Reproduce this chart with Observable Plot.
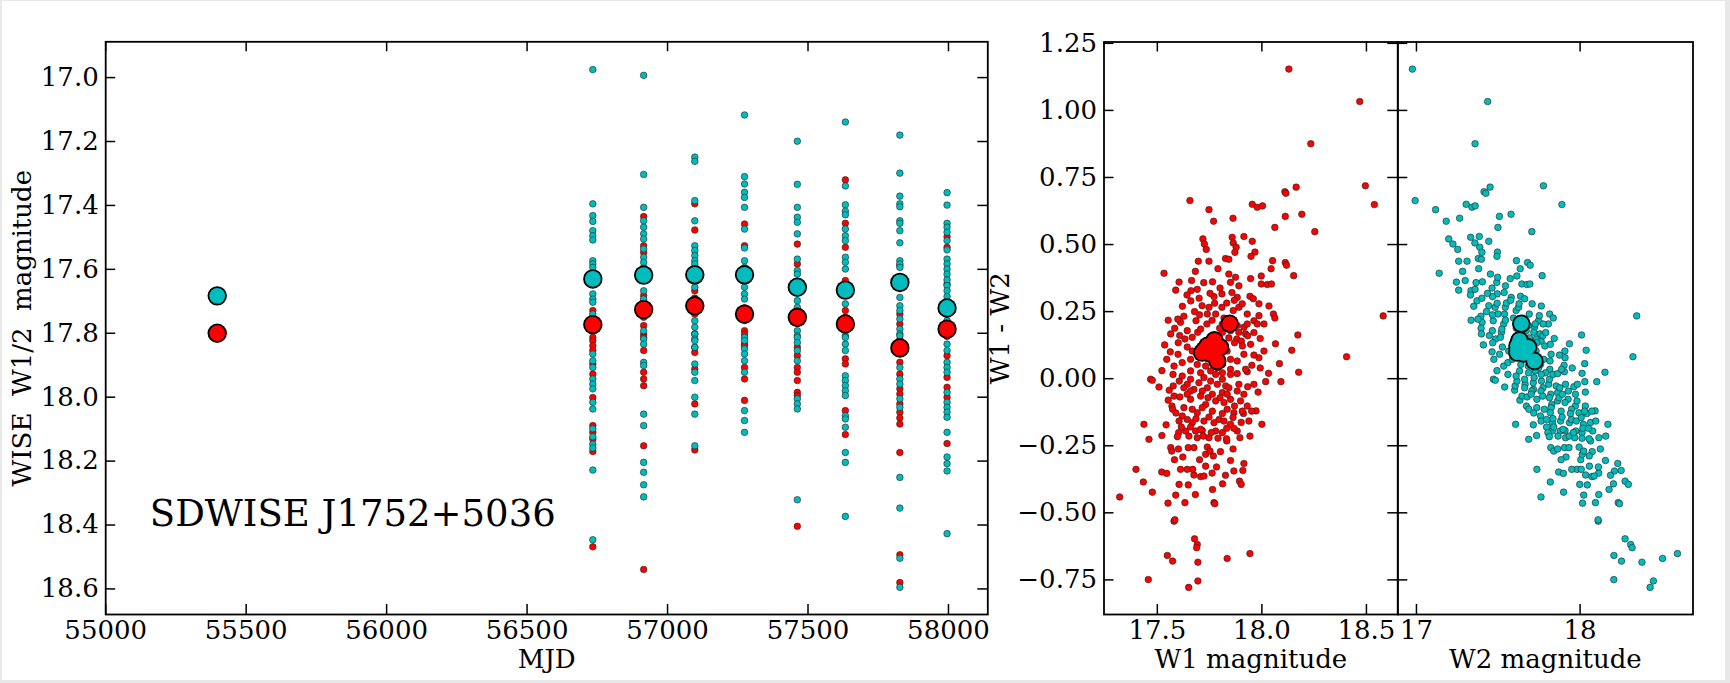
<!DOCTYPE html>
<html>
<head>
<meta charset="utf-8">
<script src="https://cdn.jsdelivr.net/npm/d3@7"></script>
<script src="https://cdn.jsdelivr.net/npm/@observablehq/plot@0.6"></script>
<style>
  html, body { margin: 0; padding: 0; background: #e8e8e8; width: 1730px; height: 683px; overflow: hidden; }
  #sheet { position: absolute; left: 2px; top: 1px; width: 1723px; height: 679px; background: #fff; }
  svg.panel { position: absolute; top: 0; overflow: visible; }
</style>
</head>
<body>
<div id="sheet"></div>
<script>
// ---- Light curve: epoch means (first epoch = AllWISE, then NEOWISE visits) ----
const epochMJD = [55397, 56734, 56915, 57097, 57274, 57462, 57633, 57827, 57995];
const w1Mean   = [17.800, 17.773, 17.726, 17.714, 17.740, 17.750, 17.771, 17.846, 17.787];
const w2Mean   = [17.683, 17.630, 17.618, 17.617, 17.617, 17.656, 17.665, 17.641, 17.721];

// ---- Single-exposure magnitudes for each NEOWISE visit (epochMJD[1..8]) ----
const w1Exposures = [
  [17.729, 17.750, 17.760, 17.790, 17.813, 17.823, 17.839, 17.854, 17.896, 17.928, 18.001, 18.089, 18.110, 18.131, 18.170, 18.468],
  [17.435, 17.526, 17.547, 17.594, 17.682, 17.700, 17.750, 17.776, 17.803, 17.813, 17.854, 17.922, 17.943, 17.964, 18.152, 18.539],
  [17.395, 17.477, 17.667, 17.690, 17.740, 17.802, 17.844, 17.860, 17.912, 18.021, 18.165],
  [17.458, 17.526, 17.720, 17.760, 17.792, 17.803, 17.834, 17.839, 17.907, 17.943, 18.010],
  [17.521, 17.583, 17.730, 17.770, 17.844, 17.870, 17.907, 17.922, 17.948, 17.985, 17.995, 18.404],
  [17.320, 17.456, 17.531, 17.635, 17.729, 17.750, 17.790, 17.880, 17.896, 18.042, 18.117],
  [17.588, 17.740, 17.771, 17.820, 17.860, 17.891, 17.928, 17.974, 17.990, 18.021, 18.047, 18.065, 18.084, 18.173, 18.493, 18.580],
  [17.498, 17.531, 17.646, 17.770, 17.800, 17.810, 17.870, 17.938, 17.969, 18.000, 18.145]
];
const w2Exposures = [
  [16.975, 17.395, 17.432, 17.450, 17.479, 17.495, 17.508, 17.573, 17.583, 17.594, 17.620, 17.640, 17.677, 17.693, 17.703, 17.740, 17.865, 17.886, 17.907, 17.943, 17.959, 17.974, 18.016, 18.037, 18.099, 18.124, 18.147, 18.159, 18.228, 18.446],
  [16.993, 17.303, 17.406, 17.448, 17.468, 17.489, 17.505, 17.536, 17.562, 17.578, 17.610, 17.630, 17.667, 17.693, 17.792, 17.818, 17.834, 17.891, 17.901, 18.053, 18.089, 18.204, 18.235, 18.274, 18.312],
  [17.249, 17.262, 17.385, 17.448, 17.526, 17.541, 17.557, 17.573, 17.583, 17.610, 17.630, 17.656, 17.693, 17.761, 17.781, 17.803, 17.818, 17.823, 17.844, 17.896, 17.922, 17.948, 18.000, 18.053, 18.152],
  [17.117, 17.310, 17.333, 17.359, 17.375, 17.406, 17.474, 17.533, 17.573, 17.594, 17.610, 17.630, 17.656, 17.677, 17.693, 17.813, 17.823, 17.849, 17.865, 17.886, 17.922, 18.042, 18.073, 18.110],
  [17.199, 17.334, 17.406, 17.437, 17.453, 17.489, 17.568, 17.604, 17.615, 17.650, 17.670, 17.698, 17.719, 17.792, 17.808, 17.813, 17.829, 17.854, 17.886, 18.005, 18.021, 18.037, 18.321],
  [17.139, 17.339, 17.398, 17.418, 17.429, 17.474, 17.495, 17.510, 17.562, 17.578, 17.599, 17.650, 17.680, 17.708, 17.808, 17.813, 17.834, 17.854, 17.933, 17.948, 17.964, 17.980, 17.995, 18.058, 18.068, 18.094, 18.173, 18.204, 18.373],
  [17.180, 17.299, 17.371, 17.395, 17.404, 17.448, 17.456, 17.479, 17.517, 17.573, 17.583, 17.594, 17.630, 17.650, 17.688, 17.714, 17.729, 17.755, 17.787, 17.802, 17.808, 17.907, 17.943, 17.959, 18.005, 18.032, 18.251, 18.347, 18.504, 18.595],
  [17.360, 17.399, 17.456, 17.468, 17.484, 17.510, 17.539, 17.568, 17.583, 17.599, 17.615, 17.633, 17.651, 17.667, 17.685, 17.710, 17.740, 17.760, 17.834, 17.854, 17.891, 17.907, 17.922, 17.985, 18.016, 18.032, 18.047, 18.063, 18.110, 18.187, 18.208, 18.231, 18.427]
];

// ---- Single exposures as [W1, W1 - W2]; W2 follows as W1 - colour ----
const w1AndColour = [
  [18.129,1.154],[18.468,1.033],[18.234,0.876],[18.495,0.719],[18.538,0.649],[18.164,0.714],[18.110,0.697],[18.115,0.691],
  [17.656,0.664],[17.747,0.630],[17.769,0.587],[17.862,0.598],[17.954,0.650],[17.978,0.639],[18.003,0.644],[18.112,0.605],
  [18.191,0.613],[18.062,0.564],[18.253,0.548],[17.718,0.521],[17.725,0.502],[17.734,0.482],[17.858,0.527],[17.863,0.506],
  [17.877,0.490],[17.871,0.471],[17.914,0.530],[17.954,0.512],[17.967,0.472],[17.948,0.456],[17.696,0.438],[17.747,0.438],
  [17.826,0.448],[17.842,0.445],[18.051,0.440],[18.044,0.410],[18.112,0.433],[18.118,0.423],[18.152,0.384],[17.532,0.393],
  [17.664,0.366],[17.661,0.328],[17.691,0.333],[17.764,0.361],[17.842,0.390],[17.850,0.359],[17.874,0.378],[17.890,0.346],
  [17.946,0.373],[17.997,0.383],[17.997,0.353],[18.026,0.351],[18.046,0.353],[17.809,0.316],[17.857,0.321],[17.771,0.306],
  [17.882,0.303],[17.943,0.307],[17.959,0.298],[17.986,0.279],[18.034,0.271],[18.055,0.241],[18.062,0.226],[17.678,0.250],
  [17.627,0.233],[17.611,0.210],[17.583,0.188],[17.685,0.216],[17.714,0.272],[17.747,0.266],[17.774,0.281],[17.739,0.241],
  [17.779,0.241],[17.809,0.266],[17.819,0.226],[17.863,0.254],[17.890,0.266],[17.906,0.279],[17.930,0.241],[17.962,0.216],
  [17.986,0.235],[18.010,0.204],[17.978,0.204],[17.914,0.192],[17.922,0.167],[18.172,0.163],[17.607,0.161],[17.693,0.173],
  [17.737,0.204],[17.811,0.204],[17.850,0.179],[17.882,0.198],[18.580,0.234],
  [17.643,0.179],[17.707,0.185],[17.811,0.173],[17.890,0.173],[17.930,0.204],[17.880,0.148],[17.632,0.148],[17.667,0.154],[17.564,0.167],
  [17.620,0.270],[17.660,0.290],[17.700,0.300],[17.752,0.318],[17.800,0.338],[17.722,0.358],[17.682,0.400],[17.790,0.410],
  [17.832,0.282],[17.868,0.292],[17.702,0.238],[17.762,0.218],[17.798,0.188],[17.842,0.152],[17.862,0.200],[17.902,0.140],
  [17.932,0.160],[17.962,0.172],[17.992,0.150],[17.598,0.222],[17.552,0.218],[17.642,0.312],[17.588,0.330],[17.604,0.360],
  [17.535,0.126],[17.600,0.134],[17.643,0.118],[17.869,0.134],[17.907,0.122],[17.946,0.128],[18.010,0.103],[17.962,0.088],
  [17.986,0.078],[18.065,0.130],[18.143,0.106],[18.084,0.056],[18.176,0.024],[18.405,0.082],
  [17.599,0.091],[17.667,0.103],[17.834,0.103],[17.850,0.072],[17.811,0.053],[17.882,0.066],[17.914,0.091],[17.787,0.041],
  [17.850,0.035],[17.659,0.029],[17.707,0.022],[17.755,0.029],[17.811,0.022],[17.580,0.047],
  [17.952,0.050],[17.992,0.040],[18.032,0.020],[17.982,-0.050],[17.932,-0.030],[17.522,0.030],[17.562,0.100],[17.552,-0.080],
  [17.545,0.072],[17.575,0.016],[17.619,0.060],[17.659,0.072],[17.691,0.053],[17.731,0.047],[17.468,-0.002],[17.476,-0.006],
  [17.508,-0.031],[17.557,-0.043],[17.576,-0.027],[17.605,-0.009],[17.619,0.010],[17.643,-0.021],[17.659,-0.002],[17.675,-0.040],
  [17.699,-0.015],[17.723,0.004],[17.739,-0.034],[17.755,-0.009],[17.779,0.016],[17.787,-0.021],[17.811,-0.002],[17.827,-0.027],
  [17.850,0.016],[17.882,0.019],[17.890,-0.021],[17.930,0.026],[17.962,-0.021],[17.922,0.035],[18.018,-0.011],[18.091,-0.011],
  [17.627,-0.034],[17.659,-0.046],[17.715,-0.046],[17.763,-0.058],[17.811,-0.052],[17.850,-0.077],[17.914,-0.058],[17.930,-0.102],
  [17.580,-0.065],[17.608,-0.068],[17.643,-0.058],[17.659,-0.077],[17.707,-0.065],[17.731,-0.096],[17.742,-0.071],[17.779,-0.083],
  [17.800,-0.071],[17.819,-0.089],[17.834,-0.058],[17.869,-0.102],[17.898,-0.083],[17.882,-0.046],[17.842,-0.034],
  [17.627,-0.108],[17.667,-0.114],[17.715,-0.108],[17.763,-0.121],[17.834,-0.114],[17.866,-0.127],[17.619,-0.139],[17.723,-0.158],
  [17.771,-0.164],[17.850,-0.170],[17.635,-0.195],[17.811,-0.201],[17.882,-0.195],
  [17.912,-0.130],[17.972,-0.120],[17.832,-0.232],[17.862,-0.262],[17.802,-0.272],[17.622,-0.292],[17.582,-0.302],[17.702,-0.302],
  [17.762,-0.352],[17.812,-0.392],[17.682,-0.432],[17.632,-0.462],[17.522,-0.212],[17.542,-0.172],
  [17.570,-0.102],[17.573,-0.114],[17.589,-0.128],[17.604,-0.158],[17.615,-0.180],[17.602,-0.201],[17.596,-0.216],[17.643,-0.152],
  [17.667,-0.164],[17.691,-0.127],[17.685,-0.149],[17.715,-0.193],[17.747,-0.143],[17.779,-0.195],[17.795,-0.152],[17.811,-0.130],
  [17.819,-0.158],[17.832,-0.185],[17.862,-0.145],[17.866,-0.185],[17.901,-0.163],[17.906,-0.121],[17.938,-0.158],[17.951,-0.121],
  [17.943,-0.214],[18.000,-0.170],[17.895,-0.220],[17.659,-0.180],[17.683,-0.195],[17.707,-0.189],[17.651,-0.214],[17.691,-0.220],
  [17.720,-0.214],[17.747,-0.220],[17.758,-0.201],
  [17.436,-0.170],[17.460,-0.226],[17.564,-0.257],[17.569,-0.270],[17.601,-0.262],[17.648,-0.257],[17.675,-0.257],[17.739,-0.255],
  [17.731,-0.282],[17.752,-0.270],[17.768,-0.288],[17.790,-0.222],[17.831,-0.224],[17.850,-0.305],[17.914,-0.316],[17.866,-0.344],
  [17.909,-0.342],[17.783,-0.329],[17.731,-0.326],[17.675,-0.359],[17.643,-0.338],[17.669,-0.338],[17.707,-0.365],[17.723,-0.363],
  [17.611,-0.338],[17.521,-0.348],[17.545,-0.353],[17.398,-0.338],[17.433,-0.385],[17.476,-0.423],[17.604,-0.394],[17.648,-0.396],
  [17.826,-0.360],[17.893,-0.382],[17.901,-0.394],[17.764,-0.413],[17.588,-0.434],[17.320,-0.441],[17.551,-0.464],[17.771,-0.462],
  [17.775,-0.466],[17.580,-0.531],[17.584,-0.526],[17.678,-0.597],[17.691,-0.618],[17.688,-0.630],[17.548,-0.659],[17.573,-0.680],
  [17.694,-0.684],[17.834,-0.670],[17.943,-0.652],[17.457,-0.749],[17.694,-0.754],[17.650,-0.778]
];

// ---- Tick values and labels ----
const mjdTicks    = [55000, 55500, 56000, 56500, 57000, 57500, 58000];
const magTicks    = [17.0, 17.2, 17.4, 17.6, 17.8, 18.0, 18.2, 18.4, 18.6];
const w1Ticks     = [17.5, 18.0, 18.5];
const w2Ticks     = [17, 18];
const colourTicks = [-0.75, -0.5, -0.25, 0, 0.25, 0.5, 0.75, 1.0, 1.25];
const objectName  = "SDWISE J1752+5036";

// ---- Styling ----
const RED = "#ff0000", CYAN = "#00bcbc";
const FONT = "DejaVu Serif";
const H = 683;

const fmt = (digits) => (d) => d.toFixed(digits).replace("-", "\u2212");

// Tabular records built from the arrays above
const w1Points = w1Exposures.flatMap((mags, i) => mags.map(m => ({mjd: epochMJD[i + 1], mag: m})));
const w2Points = w2Exposures.flatMap((mags, i) => mags.map(m => ({mjd: epochMJD[i + 1], mag: m})));
const means = epochMJD.map((mjd, i) => ({mjd, w1: w1Mean[i], w2: w2Mean[i], colour: w1Mean[i] - w2Mean[i]}));
const single = w1AndColour.map(([w1, c]) => ({w1, colour: c, w2: w1 - c}));

// Matplotlib-style inward ticks drawn on the requested sides of the frame
function inwardTicks(xs, ys, fw, fh, sides) {
  const L = 10, s = {stroke: "#000", strokeWidth: 1.5};
  const m = [];
  if (sides.includes("b")) m.push(Plot.tickX(xs, {x: d => d, insetTop: fh - L, ...s}));
  if (sides.includes("t")) m.push(Plot.tickX(xs, {x: d => d, insetBottom: fh - L, ...s}));
  if (sides.includes("l")) m.push(Plot.tickY(ys, {y: d => d, insetRight: fw - L, ...s}));
  if (sides.includes("r")) m.push(Plot.tickY(ys, {y: d => d, insetLeft: fw - L, ...s}));
  return m;
}

function place(svg, left) {
  svg.classList.add("panel");
  svg.style.left = left + "px";
  document.body.appendChild(svg);
}

const baseStyle = {fontFamily: FONT, fontSize: "26px", color: "#000", background: "none", overflow: "visible"};

// ---------------- Panel 1: light curve ----------------
{
  const left = 0, width = 1000;
  const mL = 105.2, mR = 12.7, mT = 41.3, mB = 69;
  const fw = width - mL - mR, fh = H - mT - mB;
  const svg = Plot.plot({
    width, height: H, marginLeft: mL, marginRight: mR, marginTop: mT, marginBottom: mB,
    style: baseStyle,
    x: {domain: [55000, 58140]},
    y: {domain: [16.888, 18.68], reverse: true},
    marks: [
      Plot.dot(w1Points, {x: "mjd", y: "mag", r: 3.3, fill: RED, stroke: "#222", strokeWidth: 0.6}),
      Plot.dot(w2Points, {x: "mjd", y: "mag", r: 3.3, fill: CYAN, stroke: "#222", strokeWidth: 0.6}),
      Plot.dot(means, {x: "mjd", y: "w2", r: 9.7, fill: "#000"}),
      Plot.dot(means, {x: "mjd", y: "w2", r: 7.9, fill: CYAN}),
      Plot.dot(means, {x: "mjd", y: "w1", r: 9.7, fill: "#000"}),
      Plot.dot(means, {x: "mjd", y: "w1", r: 7.9, fill: RED}),
      Plot.text([objectName], {x: 55157, y: 18.365, text: d => d, textAnchor: "start", lineAnchor: "middle", fontSize: 37}),
      Plot.frame({stroke: "#000", strokeWidth: 1.8}),
      ...inwardTicks(mjdTicks, magTicks, fw, fh, "btlr"),
      Plot.axisX(mjdTicks, {anchor: "bottom", tickSize: 0, tickPadding: 6, tickFormat: d => String(d), label: null}),
      Plot.axisY(magTicks, {anchor: "left", tickSize: 0, tickPadding: 7, tickFormat: fmt(1), label: null}),
      Plot.text(["MJD"], {frameAnchor: "bottom", dy: 45, text: d => d, textAnchor: "middle", lineAnchor: "middle", fontSize: 26}),
      Plot.text(["WISE\u00a0 W1/2\u00a0 magnitude"], {frameAnchor: "left", dx: -83, rotate: -90, text: d => d, textAnchor: "middle", lineAnchor: "middle", fontSize: 26})
    ]
  });
  place(svg, left);
}

// ---------------- Panel 2: W1 vs W1 - W2 ----------------
{
  const left = 1000, width = 400;
  const mL = 103.5, mR = 2.7, mT = 41.5, mB = 69;
  const fw = width - mL - mR, fh = H - mT - mB;
  const svg = Plot.plot({
    width, height: H, marginLeft: mL, marginRight: mR, marginTop: mT, marginBottom: mB,
    style: baseStyle,
    x: {domain: [17.245, 18.65]},
    y: {domain: [-0.879, 1.255]},
    marks: [
      Plot.dot(single, {x: "w1", y: "colour", r: 3.3, fill: RED, stroke: "#222", strokeWidth: 0.6}),
      Plot.dot(means, {x: "w1", y: "colour", r: 9.2, fill: "#000"}),
      Plot.dot(means, {x: "w1", y: "colour", r: 7.4, fill: RED}),
      Plot.frame({stroke: "#000", strokeWidth: 1.8}),
      ...inwardTicks(w1Ticks, colourTicks, fw, fh, "btlr"),
      Plot.axisX(w1Ticks, {anchor: "bottom", tickSize: 0, tickPadding: 6, tickFormat: fmt(1), label: null}),
      Plot.axisY(colourTicks, {anchor: "left", tickSize: 0, tickPadding: 7, tickFormat: fmt(2), label: null}),
      Plot.text(["W1 magnitude"], {frameAnchor: "bottom", dy: 45, text: d => d, textAnchor: "middle", lineAnchor: "middle", fontSize: 26}),
      Plot.text(["W1 - W2"], {frameAnchor: "left", dx: -103.5, rotate: -90, text: d => d, textAnchor: "middle", lineAnchor: "middle", fontSize: 26})
    ]
  });
  place(svg, left);
}

// ---------------- Panel 3: W2 vs W1 - W2 (shares the colour axis) ----------------
{
  const left = 1397, width = 333;
  const mL = 0.3, mR = 37.5, mT = 41.5, mB = 69;
  const fw = width - mL - mR, fh = H - mT - mB;
  const svg = Plot.plot({
    width, height: H, marginLeft: mL, marginRight: mR, marginTop: mT, marginBottom: mB,
    style: baseStyle,
    x: {domain: [16.886, 18.69]},
    y: {domain: [-0.879, 1.255]},
    marks: [
      Plot.dot(single, {x: "w2", y: "colour", r: 3.3, fill: CYAN, stroke: "#222", strokeWidth: 0.6}),
      Plot.dot(means, {x: "w2", y: "colour", r: 9.2, fill: "#000"}),
      Plot.dot(means, {x: "w2", y: "colour", r: 7.4, fill: CYAN}),
      Plot.frame({stroke: "#000", strokeWidth: 1.8}),
      ...inwardTicks(w2Ticks, colourTicks, fw, fh, "btl"),
      Plot.axisX(w2Ticks, {anchor: "bottom", tickSize: 0, tickPadding: 6, tickFormat: d => String(d), label: null}),
      Plot.axisY(colourTicks, {anchor: "left", tickSize: 0, tickFormat: () => "", label: null}),
      Plot.text(["W2 magnitude"], {frameAnchor: "bottom", dy: 45, text: d => d, textAnchor: "middle", lineAnchor: "middle", fontSize: 26})
    ]
  });
  place(svg, left);
}
</script>
</body>
</html>
